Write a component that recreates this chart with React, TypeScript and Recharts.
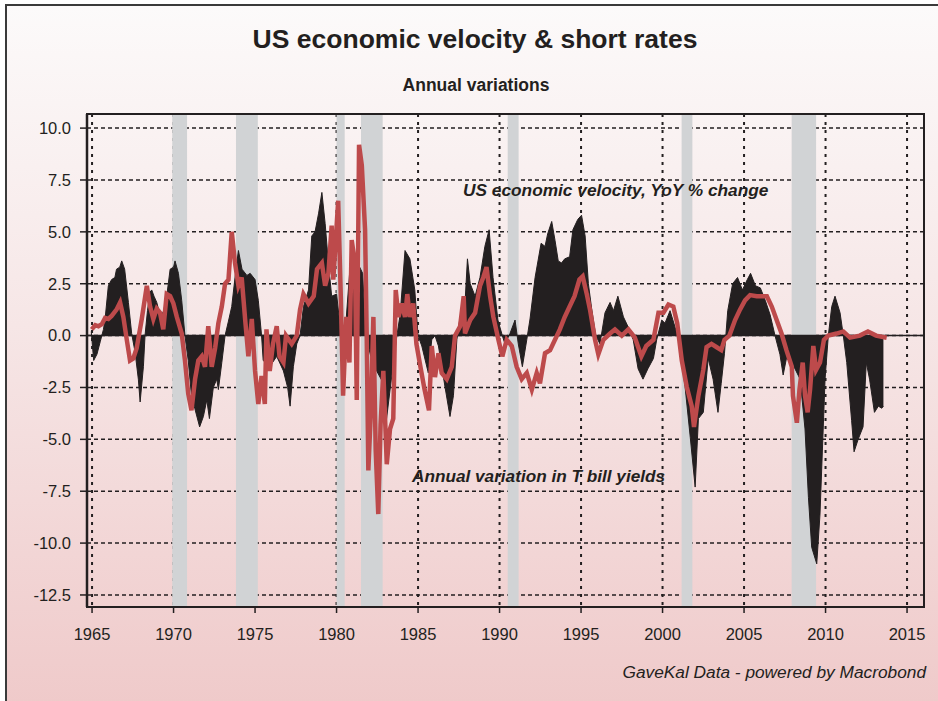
import React from "react";
import {
  ComposedChart,
  Area,
  Line,
  XAxis,
  YAxis,
  CartesianGrid,
  ReferenceArea,
  ReferenceLine,
} from "recharts";

const INK = "#231f20";
const RED = "#bd4a4b";
const BAND = "#d1d3d5";
const FONT = "'Liberation Sans', Arial, sans-serif";

// US economic velocity, YoY % change
const VEL_YEARS = [
  1964.95, 1965.1, 1965.3, 1965.5, 1965.7, 1965.8, 1966.0, 1966.2, 1966.4, 1966.5, 1966.7, 1966.82,
  1967.0, 1967.23, 1967.43, 1967.64, 1967.84, 1967.95, 1968.15, 1968.25, 1968.4, 1968.56, 1968.66,
  1968.8, 1968.97, 1969.2, 1969.4, 1969.58, 1969.79, 1970.0, 1970.09, 1970.3, 1970.5, 1970.7, 1970.9,
  1971.1, 1971.3, 1971.6, 1971.83, 1972.04, 1972.2, 1972.44, 1972.65, 1972.75, 1972.96, 1973.16,
  1973.37, 1973.57, 1973.8, 1973.98, 1974.2, 1974.5, 1974.7, 1975.0, 1975.2, 1975.4, 1975.5, 1975.9,
  1976.33, 1976.74, 1977.0, 1977.15, 1977.35, 1977.56, 1977.76, 1977.97, 1978.28, 1978.48, 1978.68,
  1978.9, 1979.1, 1979.3, 1979.5, 1979.7, 1980.0, 1980.2, 1980.4, 1980.6, 1980.8, 1981.0, 1981.3,
  1981.6, 1981.8, 1982.1, 1982.46, 1982.87, 1983.07, 1983.3, 1983.7, 1983.9, 1984.2, 1984.5, 1984.8,
  1985.0, 1985.23, 1985.63, 1985.84, 1986.04, 1986.25, 1986.66, 1986.96, 1987.17, 1987.38, 1987.58,
  1987.89, 1988.03, 1988.2, 1988.5, 1988.8, 1989.1, 1989.36, 1989.6, 1989.9, 1990.17, 1990.33,
  1990.64, 1990.95, 1991.15, 1991.4, 1991.67, 1991.87, 1992.18, 1992.55, 1992.79, 1992.95, 1993.2,
  1993.4, 1993.6, 1993.8, 1994.0, 1994.3, 1994.5, 1994.8, 1995.03, 1995.25, 1995.45, 1995.65, 1995.9,
  1996.16, 1996.47, 1996.78, 1996.99, 1997.26, 1997.6, 1997.9, 1998.2, 1998.5, 1998.8, 1999.1,
  1999.44, 1999.64, 1999.95, 2000.15, 2000.46, 2000.77, 2000.97, 2001.38, 2001.7, 2002.0, 2002.2,
  2002.5, 2002.8, 2003.1, 2003.4, 2003.6, 2003.8, 2004.0, 2004.3, 2004.6, 2004.9, 2005.2, 2005.4,
  2005.7, 2006.0, 2006.3, 2006.6, 2006.9, 2007.2, 2007.4, 2007.6, 2008.0, 2008.44, 2008.74, 2008.95,
  2009.15, 2009.46, 2009.66, 2009.97, 2010.17, 2010.38, 2010.58, 2010.89, 2011.09, 2011.3, 2011.6,
  2011.75, 2012.0, 2012.3, 2012.5, 2012.7, 2013.0, 2013.24, 2013.45, 2013.55,
];
const VEL_VALUES = [
  0.2, -1.2, -0.9, -0.3, 0.3, 0.8, 2.4, 2.7, 2.8, 3.2, 3.3, 3.6,
  3.2, 1.6, 0.1, -0.8, -2.1, -3.2, -1.5, 0, 1.2, 2.1, 2.2,
  1.9, 1.6, 0.9, 1.2, 1.9, 3.2, 3.3, 3.6, 3.0, 1.7, 0, -1.2,
  -2.9, -3.5, -4.4, -3.9, -3.1, -4.0, -2.5, -2.1, -2.6, -1.3, 0,
  0.7, 1.4, 3.0, 4.1, 3.2, 2.9, 3.0, 2.7, 1.7, 0, -1.2, -1.5,
  -1.0, -1.7, -2.5, -3.4, -1.5, -0.4, 0, 1.4, 2.2, 4.8, 5.0,
  5.9, 6.9, 5.4, 3.5, 1.9, 2.0, 0.6, 0, 0.9, 3.0, 3.8, 3.5,
  3.0, 0, -1.0, -1.7, -2.3, -4.0, -2.5, 0, 1.0, 4.1, 3.7, 2.2,
  0, -0.5, -1.8, -0.2, 0, -0.5, -2.5, -3.9, -2.9, -0.2, 0.9,
  1.7, 3.7, 2.5, 1.9, 2.8, 4.3, 5.1, 2.8, 0.75, 0, -0.4,
  0.1, 0.75, -0.4, -1.5, -0.2, 0.8, 2.8, 4.45, 4.3, 4.9, 5.5,
  4.6, 3.6, 3.5, 3.7, 3.8, 5.1, 5.6, 5.8, 4.8, 2.5, 1.3, 0,
  -0.4, 1.1, 1.6, 1.2, 1.9, 0.9, 0.4, -0.2, -1.6, -2.1, -1.6,
  -1.1, -0.2, 0.75, 0.6, 1.2, 0.4, 0, -2.45, -4.9, -7.3, -4.0,
  -3.7, -1.1, -2.1, -3.7, -2.3, -0.85, 1.2, 2.5, 2.8, 2.2, 2.7, 3.0,
  2.4, 2.3, 1.7, 1.0, 0, -0.9, -1.9, -1.1, -1.4, -2.1, -4.5, -7.8,
  -10.2, -11.0, -8.6, -2.1, 0, 1.4, 1.9, 1.1, 0, -1.3, -4.1,
  -5.6, -5.0, -4.4, -1.3, -2.1, -3.7, -3.4, -3.5, -3.4,
];

// Annual variation in T bill yields
const TB_YEARS = [
  1964.98, 1965.2, 1965.39, 1965.6, 1965.8, 1966.0, 1966.2, 1966.5, 1966.72, 1966.92, 1967.13,
  1967.33, 1967.53, 1967.74, 1968.05, 1968.36, 1968.56, 1968.76, 1968.97, 1969.17, 1969.37, 1969.58,
  1969.79, 1969.99, 1970.2, 1970.5, 1970.7, 1970.9, 1971.1, 1971.32, 1971.52, 1971.73, 1971.93,
  1972.13, 1972.34, 1972.55, 1972.75, 1972.96, 1973.16, 1973.37, 1973.57, 1973.77, 1973.98, 1974.18,
  1974.39, 1974.59, 1974.8, 1975.0, 1975.2, 1975.4, 1975.6, 1975.7, 1975.9, 1976.1, 1976.33, 1976.5,
  1976.74, 1976.9, 1977.25, 1977.56, 1977.76, 1977.97, 1978.28, 1978.6, 1978.8, 1979.1, 1979.3,
  1979.5, 1979.7, 1979.8, 1980.1, 1980.26, 1980.4, 1980.6, 1980.79, 1980.93, 1981.13, 1981.24,
  1981.38, 1981.55, 1981.75, 1981.85, 1981.95, 1982.1, 1982.26, 1982.4, 1982.56, 1982.7, 1982.87,
  1983.08, 1983.28, 1983.48, 1983.63, 1983.8, 1984.0, 1984.2, 1984.34, 1984.5, 1984.7, 1984.9,
  1985.1, 1985.4, 1985.67, 1985.84, 1986.04, 1986.25, 1986.45, 1986.76, 1987.07, 1987.27, 1987.58,
  1987.8, 1987.88, 1988.2, 1988.5, 1988.8, 1989.0, 1989.2, 1989.42, 1989.62, 1989.93, 1990.17,
  1990.44, 1990.75, 1991.05, 1991.36, 1991.67, 1991.98, 1992.28, 1992.48, 1992.79, 1993.1, 1993.4,
  1993.7, 1994.0, 1994.3, 1994.6, 1994.9, 1995.1, 1995.35, 1995.55, 1995.86, 1996.06, 1996.37,
  1996.78, 1997.08, 1997.5, 1997.9, 1998.3, 1998.7, 1999.0, 1999.44, 1999.75, 2000.05, 2000.36,
  2000.66, 2000.9, 2001.18, 2001.48, 2001.79, 2001.93, 2002.2, 2002.5, 2002.7, 2003.0, 2003.3,
  2003.6, 2003.8, 2004.1, 2004.45, 2004.75, 2005.06, 2005.37, 2005.78, 2006.4, 2006.7, 2007.0,
  2007.3, 2007.6, 2007.93, 2008.0, 2008.24, 2008.4, 2008.6, 2008.74, 2008.9, 2009.05, 2009.25,
  2009.42, 2009.66, 2009.9, 2010.17, 2010.68, 2011.09, 2011.5, 2012.1, 2012.6, 2013.1, 2013.75,
];
const TB_VALUES = [
  0.3, 0.5, 0.45, 0.55, 0.85, 0.8, 0.95, 1.25, 1.6, 0.9, -0.2,
  -1.2, -1.1, -0.6, 0.8, 2.4, 1.4, 0.8, 1.3, 1.1, 0.3, 2.0,
  1.9, 1.55, 0.9, 0.1, -1.2, -2.8, -3.6, -2.1, -1.2, -1.0, -1.5,
  0.45, -1.5, -0.6, 0.6, 1.4, 2.5, 2.7, 5.0, 3.5, 2.4, 2.8,
  0.8, -1.0, 0.8, -1.7, -3.3, -1.95, -3.3, 0.3, -1.7, -0.4, 0.45, -1.0,
  -1.3, 0, -0.4, 0, 1.25, 2.0, 1.55, 1.9, 3.2, 3.5, 2.4,
  3.0, 5.3, 2.7, 6.5, 1.9, -2.9, 0.9, -1.3, 4.6, 3.5, -3.1,
  9.2, 8.2, 5.1, 0, -6.5, -3.75, 0.9, -5.5, -8.6, -4.3, -1.7,
  -6.2, -4.5, -4.0, 2.2, 0.9, 1.55, 0.9, 2.0, 0.9, 1.55, -0.4,
  -1.3, -2.6, -3.6, -0.5, -2.0, -0.85, -1.8, -2.1, -1.5, 0, 0.45,
  1.9, 0.1, 0.75, 1.1, 2.4, 2.8, 3.3, 1.9, 0.9, -0.2, -1.0,
  -0.2, -0.5, -1.5, -2.1, -1.8, -2.6, -1.8, -2.3, -0.85, -0.7, -0.2,
  0.3, 0.9, 1.4, 1.9, 2.7, 2.85, 2.0, 1.25, -0.2, -0.9, -0.2,
  0.1, 0.3, 0, 0.3, -0.1, -1.0, -0.5, -0.2, 1.1, 1.1, 1.5,
  1.4, 0.6, -1.2, -2.45, -3.4, -4.4, -2.9, -1.65, -0.55, -0.4, -0.55,
  -0.7, -0.2, 0, 0.75, 1.25, 1.7, 1.95, 1.9, 1.9, 1.4, 0.75,
  0.1, -0.7, -1.5, -2.9, -4.2, -2.6, -1.3, -2.9, -3.7, -2.6, -0.5,
  -1.65, -1.3, -0.2, 0, 0.1, 0.2, -0.1, 0, 0.2, 0, -0.1,
];

// NBER recessions
const RECESSION_START = [1969.92, 1973.83, 1980.0, 1981.5, 1990.5, 2001.17, 2007.92];
const RECESSION_END = [1970.83, 1975.17, 1980.5, 1982.83, 1991.17, 2001.83, 2009.42];

const Y_TICKS = [-12.5, -10, -7.5, -5, -2.5, 0, 2.5, 5, 7.5, 10];
const X_TICKS = [1965, 1970, 1975, 1980, 1985, 1990, 1995, 2000, 2005, 2010, 2015];

const X_DOMAIN: [number, number] = [1964.69, 2016.04];
const Y_DOMAIN: [number, number] = [-13.08, 10.68];

const velocity = VEL_YEARS.map((year, i) => ({ year, v: VEL_VALUES[i] }));
const tbill = TB_YEARS.map((year, i) => ({ year, t: TB_VALUES[i] }));

const tick = { fontSize: 16.5, fill: INK, fontFamily: FONT };

export default function App() {
  return (
    <div
      style={{
        position: "absolute",
        left: 0,
        top: 0,
        width: 938,
        height: 701,
        overflow: "hidden",
        background: "#fff",
        fontFamily: FONT,
        color: INK,
      }}
    >
      <div
        style={{
          position: "absolute",
          left: 5,
          top: 4,
          width: 940,
          height: 710,
          border: "2px solid #3a3a3a",
          background: "linear-gradient(to bottom, #fcfafa 0%, #f6e6e6 45%, #efc9c9 100%)",
        }}
      />
      <div
        style={{
          position: "absolute",
          left: 0,
          width: 950,
          top: 24,
          textAlign: "center",
          fontSize: 26.5,
          fontWeight: "bold",
        }}
      >
        US economic velocity &amp; short rates
      </div>
      <div
        style={{
          position: "absolute",
          left: 0,
          width: 952,
          top: 75,
          textAlign: "center",
          fontSize: 17.5,
          fontWeight: "bold",
        }}
      >
        Annual variations
      </div>

      <div style={{ position: "absolute", left: 0, top: 0 }}>
        <ComposedChart width={938} height={701} margin={{ top: 114, right: 14, bottom: 64, left: 0 }}>
          <CartesianGrid
            horizontal={true}
            vertical={false}
            stroke={INK}
            strokeWidth={1.5}
            strokeDasharray="4 3"
          />
          <CartesianGrid
            horizontal={false}
            vertical={true}
            stroke={INK}
            strokeWidth={2}
            strokeDasharray="3 5"
          />
          {RECESSION_START.map((s, i) => (
            <ReferenceArea
              key={s}
              x1={s}
              x2={RECESSION_END[i]}
              y1={Y_DOMAIN[0]}
              y2={Y_DOMAIN[1]}
              fill={BAND}
              fillOpacity={1}
              stroke="none"
              ifOverflow="visible"
            />
          ))}
          <XAxis
            type="number"
            dataKey="year"
            domain={X_DOMAIN}
            ticks={X_TICKS}
            allowDataOverflow
            height={30}
            tick={tick}
            tickSize={6}
            tickMargin={15}
            stroke={INK}
            axisLine={{ stroke: INK, strokeWidth: 2 }}
            tickLine={{ stroke: INK, strokeWidth: 1.5 }}
          />
          <YAxis
            type="number"
            domain={Y_DOMAIN}
            ticks={Y_TICKS}
            allowDataOverflow
            width={87}
            tick={tick}
            tickSize={7}
            tickMargin={9}
            tickFormatter={(v: number) => v.toFixed(1)}
            axisLine={{ stroke: INK, strokeWidth: 2.5 }}
            tickLine={{ stroke: INK, strokeWidth: 1.5 }}
          />
          <Area
            data={velocity}
            dataKey="v"
            type="linear"
            baseValue={0}
            fill={INK}
            fillOpacity={1}
            stroke={INK}
            strokeWidth={1}
            isAnimationActive={false}
            dot={false}
            activeDot={false}
          />
          <ReferenceLine y={0} stroke={INK} strokeWidth={1.5} />
          <Line
            data={tbill}
            dataKey="t"
            type="linear"
            stroke={RED}
            strokeWidth={4.5}
            strokeLinejoin="miter"
            dot={false}
            activeDot={false}
            isAnimationActive={false}
          />
          <ReferenceArea
            x1={X_DOMAIN[0]}
            x2={X_DOMAIN[1]}
            y1={Y_DOMAIN[0]}
            y2={Y_DOMAIN[1]}
            fill="none"
            stroke={INK}
            strokeWidth={2}
            ifOverflow="visible"
          />
        </ComposedChart>
      </div>

      <div
        style={{
          position: "absolute",
          left: 463,
          top: 180,
          fontSize: 17.3,
          fontWeight: "bold",
          fontStyle: "italic",
          whiteSpace: "nowrap",
        }}
      >
        US economic velocity, YoY % change
      </div>
      <div
        style={{
          position: "absolute",
          left: 412,
          top: 466,
          fontSize: 17.2,
          fontWeight: "bold",
          fontStyle: "italic",
          whiteSpace: "nowrap",
        }}
      >
        Annual variation in T bill yields
      </div>
      <div
        style={{
          position: "absolute",
          right: 12,
          top: 662,
          fontSize: 17.3,
          fontStyle: "italic",
          whiteSpace: "nowrap",
        }}
      >
        GaveKal Data - powered by Macrobond
      </div>
    </div>
  );
}
